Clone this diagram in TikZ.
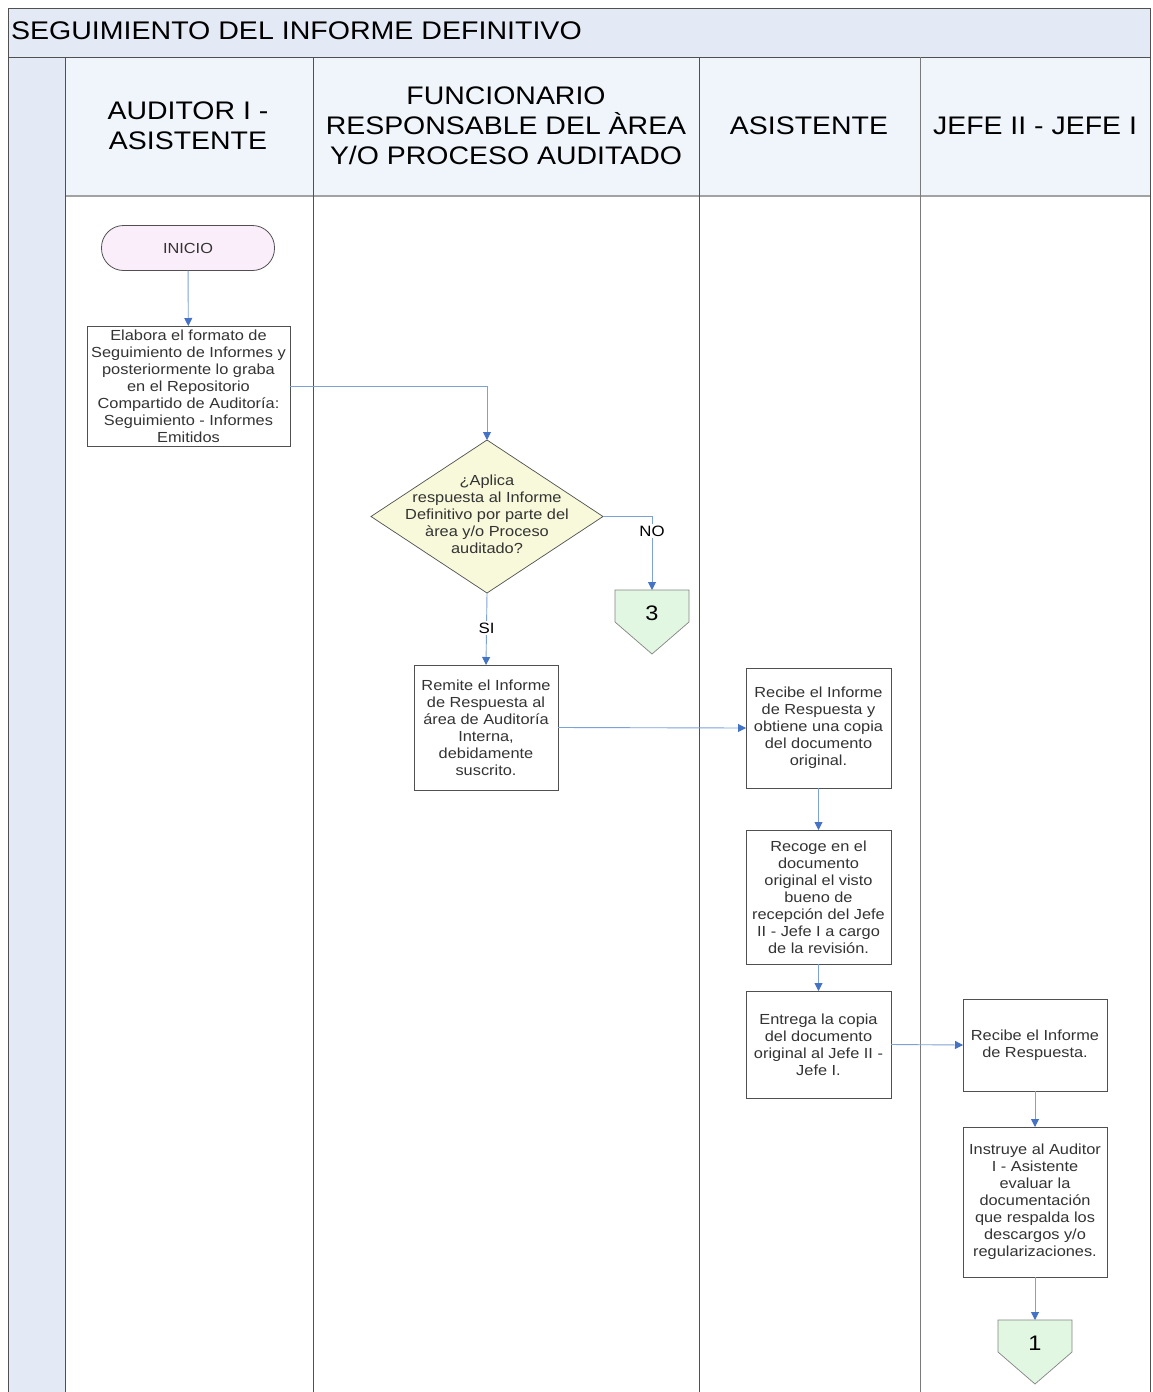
\documentclass[tikz,border=0pt]{standalone}
\usepackage{fontspec}
\setmainfont{Liberation Sans}[FakeStretch=1.12]
\usetikzlibrary{arrows.meta,calc}
\definecolor{barfill}{HTML}{E4EAF5}
\definecolor{headfill}{HTML}{EFF5FB}
\definecolor{framegray}{HTML}{505050}
\definecolor{lanegray}{HTML}{7A7A7A}
\definecolor{linkblue}{HTML}{7EA2D6}
\definecolor{tipblue}{HTML}{4472C4}
\definecolor{startfill}{HTML}{FBEEFB}
\definecolor{askfill}{HTML}{F8F8DA}
\definecolor{pagefill}{HTML}{E2F7E2}
\definecolor{txt}{HTML}{333333}
\begin{document}
\begin{tikzpicture}[x=1pt,y=-1pt,
  every node/.style={inner sep=0pt,outer sep=0pt,text=txt},
  stepbox/.style={draw=framegray,line width=0.8pt,fill=white,align=center,
    font=\fontsize{14.6}{17}\selectfont},
  headtxt/.style={align=center,text=black,font=\fontsize{25.4}{30}\selectfont},
  link/.style={draw=linkblue,line width=0.9pt,
    -{Triangle[length=8pt,width=8pt,color=tipblue]}},
  tag/.style={fill=white,inner sep=1.5pt,text=black,font=\fontsize{15}{16}\selectfont},
  shapebox/.style={draw=none,minimum width=#1},
  pagebox/.style={draw=none,minimum width=74pt,minimum height=64pt},
  pageshape/.style={draw=framegray!70,line width=0.7pt,fill=pagefill}]
\useasboundingbox (0,0) rectangle (1152,1392);
% frame, title bar and lane strip
\fill[white] (0,0) rectangle (1152,1392);
\filldraw[fill=barfill,draw=framegray,line width=1pt] (8,8) rectangle (1150,57);
\node[anchor=west,text=black,font=\fontsize{25.5}{30}\selectfont] (title) at (11,31) {SEGUIMIENTO DEL INFORME DEFINITIVO};
\fill[barfill] (8,57) rectangle (65,1392);
\fill[headfill] (65,57) rectangle (1150,196);
\draw[lanegray!70,line width=1.4pt] (65,196) -- (1150,196);
\draw[framegray,line width=1pt] (8,57) -- (8,1392);
\draw[framegray,line width=1pt] (1150,57) -- (1150,1392);
\draw[framegray,line width=1pt] (8,57) -- (1150,57);
\draw[framegray,line width=0.9pt] (65,57) -- (65,1392);
\draw[framegray,line width=0.9pt] (313,57) -- (313,1392);
\draw[framegray,line width=0.9pt] (699,57) -- (699,1392);
\draw[lanegray,line width=0.9pt] (920,57) -- (920,1392);
% lane headers
\node[headtxt] (h1) at (188,126) {AUDITOR I -\\ASISTENTE};
\node[headtxt] (h2) at (506,126) {FUNCIONARIO\\RESPONSABLE DEL ÀREA\\Y/O PROCESO AUDITADO};
\node[headtxt] (h3) at (809,126) {ASISTENTE};
\node[headtxt] (h4) at (1035,126) {JEFE II - JEFE I};
% start
\node[draw=framegray,line width=0.8pt,fill=startfill,rounded corners=22pt,
  minimum width=173pt,minimum height=45pt,font=\fontsize{14.6}{17}\selectfont] (inicio) at (188,248) {INICIO};
% steps
\node[stepbox,minimum width=203pt,minimum height=120pt] (elabora) at (188.5,386)
 {Elabora el formato de\\Seguimiento de Informes y\\posteriormente lo graba\\en el Repositorio\\Compartido de Auditoría:\\Seguimiento - Informes\\Emitidos};
% decision
\node[shapebox=232pt,minimum height=153pt] (aplica) at (487,516.5) {};
\filldraw[fill=askfill,draw=framegray,line width=0.7pt]
  (aplica.north) -- (aplica.east) -- (aplica.south) -- (aplica.west) -- cycle;
\node[align=center,font=\fontsize{14.6}{17}\selectfont] (aplicatxt) at (487,514)
 {¿Aplica\\respuesta al Informe\\Definitivo por parte del\\àrea y/o Proceso\\auditado?};
% off-page connector 3
\node[pagebox] (c3) at (652,622) {};
\filldraw[pageshape] (c3.north west) -- (c3.north east) -- (c3.east) -- (c3.south) -- (c3.west) -- cycle;
\node[text=black,font=\fontsize{21}{22}\selectfont] (c3txt) at (652,613) {3};
\node[stepbox,minimum width=144pt,minimum height=125pt] (remite) at (486,727.5)
 {Remite el Informe\\de Respuesta al\\área de Auditoría\\Interna,\\debidamente\\suscrito.};
\node[stepbox,minimum width=145pt,minimum height=120pt] (recibe) at (818.5,728)
 {Recibe el Informe\\de Respuesta y\\obtiene una copia\\del documento\\original.};
\node[stepbox,minimum width=145pt,minimum height=134pt] (recoge) at (818.5,897)
 {Recoge en el\\documento\\original el visto\\bueno de\\recepción del Jefe\\II - Jefe I a cargo\\de la revisión.};
\node[stepbox,minimum width=145pt,minimum height=107pt] (entrega) at (818.5,1044.5)
 {Entrega la copia\\del documento\\original al Jefe II -\\Jefe I.};
\node[stepbox,minimum width=144pt,minimum height=92pt] (recibejefe) at (1035,1045)
 {Recibe el Informe\\de Respuesta.};
\node[stepbox,minimum width=144pt,minimum height=150pt] (instruye) at (1035,1202)
 {Instruye al Auditor\\I - Asistente\\evaluar la\\documentación\\que respalda los\\descargos y/o\\regularizaciones.};
% off-page connector 1
\node[pagebox] (c1) at (1035,1352) {};
\filldraw[pageshape] (c1.north west) -- (c1.north east) -- (c1.east) -- (c1.south) -- (c1.west) -- cycle;
\node[text=black,font=\fontsize{21}{22}\selectfont] (c1txt) at (1035,1343) {1};
% connectors
\draw[link] (inicio) -- (elabora);
\draw[link] (elabora.east) -| (aplica.north);
\draw[link] (aplica.east) -| node[tag,pos=0.6] (notag) {NO} (c3.north);
\draw[link] (aplica.south) -- node[tag,pos=0.49] (sitag) {SI} (remite.north);
\draw[link] (remite.east) -- (recibe.west);
\draw[link] (recibe) -- (recoge);
\draw[link] (recoge) -- (entrega);
\draw[link] (entrega.east) -- (recibejefe.west);
\draw[link] (recibejefe) -- (instruye);
\draw[link] (instruye) -- (c1.north);
\end{tikzpicture}
\end{document}
